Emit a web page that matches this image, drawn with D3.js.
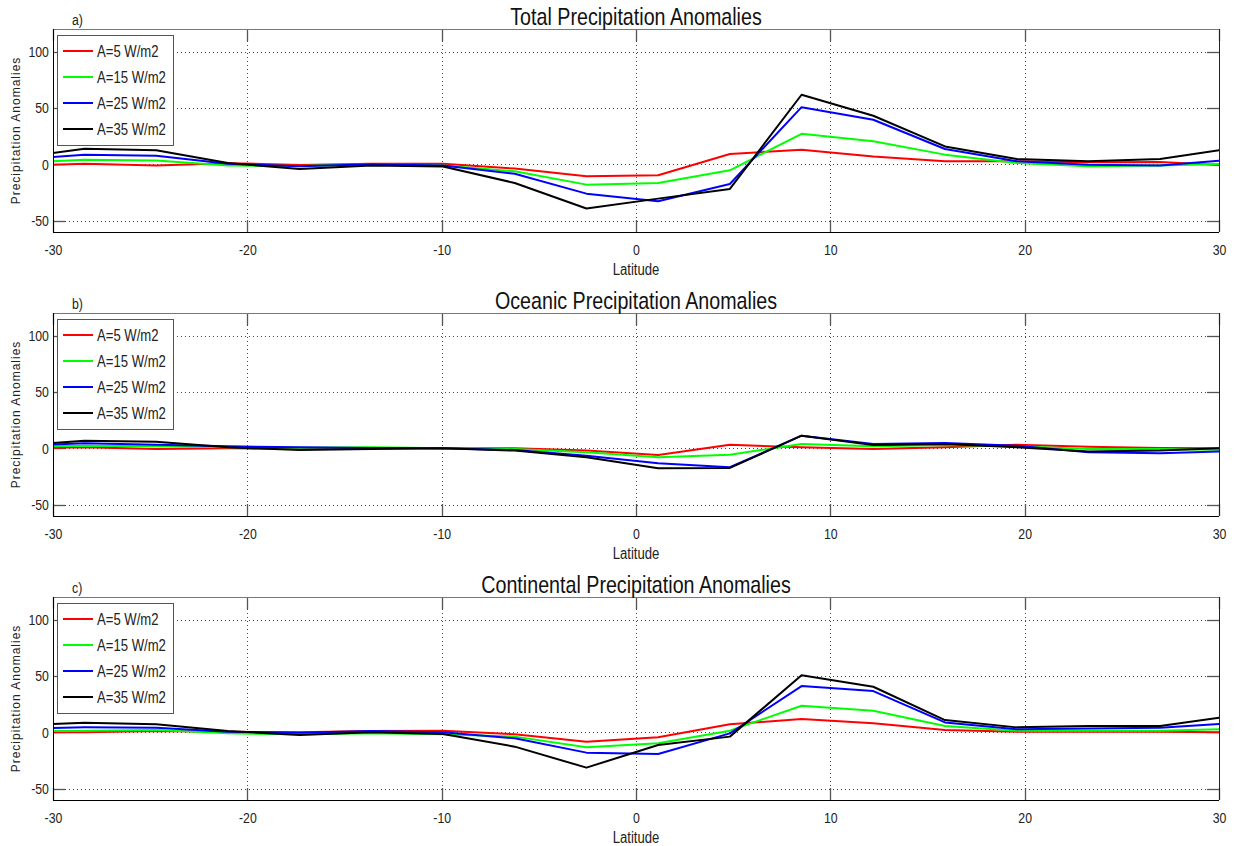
<!DOCTYPE html>
<html>
<head>
<meta charset="utf-8">
<script src="https://cdn.jsdelivr.net/npm/d3@7"></script>
<style>
  html, body { margin: 0; padding: 0; background: #fff; }
  svg { display: block; }
  text { font-family: "Liberation Sans", Arial, Helvetica, sans-serif; }
</style>
</head>
<body>
<svg id="chart" width="1238" height="846"></svg>
<script>
// Latitudes of the model grid rows (degrees)
const latitudes = [-32.07, -28.38, -24.69, -21.0, -17.31, -13.62, -9.93, -6.24, -2.55, 1.14, 4.83, 8.52, 12.21, 15.9, 19.59, 23.28, 26.97, 30.66];

// Legend entries / forcing amplitudes
const seriesNames = ["A=5 W/m2", "A=15 W/m2", "A=25 W/m2", "A=35 W/m2"];
const seriesColors = ["#ff0000", "#00ff00", "#0000ff", "#000000"];

// a) Total precipitation anomalies
const totalA5  = [-1.5, 0.5, -1, 1, -0.5, 0.5, 0.5, -3.8, -10.6, -9.7, 9.1, 13, 7, 2.7, 2.7, 1.8, 2, -1.2];
const totalA15 = [1, 4, 3.5, -1, -1.5, 0, -1, -6.2, -18, -16.5, -5.3, 27.1, 20.4, 8.6, 1.2, -1.8, -1, 0.5];
const totalA25 = [4, 8.5, 7.7, 0.6, -1.8, 0, -1, -8.3, -26, -32.7, -17.4, 50.7, 39.5, 13.6, 2.7, -0.3, -1, 4];
const totalA35 = [5, 13.9, 12.4, 1.2, -4.1, -1, -2, -16.5, -39.2, -30.4, -21.8, 61.7, 43.1, 15.9, 4.7, 2.7, 4.7, 14.1];

// b) Oceanic precipitation anomalies
const oceanA5  = [0, 0.9, -0.6, 0, -0.3, 0, 0, 0, -2, -5.9, 3.2, 0.9, -0.6, 0.9, 3.2, 1.5, 0.3, 0];
const oceanA15 = [1, 2.4, 1.8, 0.9, 0.6, 0.9, 0, -0.6, -3.5, -8, -5.6, 3.8, 1.8, 2.9, 1.8, -0.6, -0.6, -1.5];
const oceanA25 = [2, 4.4, 3.2, 1.8, 0.9, 0.3, 0, -1.5, -6.5, -13.3, -16.8, 11.2, 3.8, 4.7, 2.4, -3.5, -4.4, -2.5];
const oceanA35 = [2, 6.8, 5.9, 0.9, -1.5, -0.6, 0, -2, -8, -17.7, -17.4, 11.2, 2.9, 3.8, 0.9, -2.7, -2, 0.5];

// c) Continental precipitation anomalies
const landA5  = [0, 0, 1.2, 0.6, 0, 1.2, 1.5, -1.8, -8.3, -4.4, 7.1, 11.8, 8, 2.1, 0.6, 0.6, 0.6, 0];
const landA15 = [1, 1.5, 2.1, -0.9, -1.8, -0.9, -1.8, -3.8, -13.3, -9.7, 1.5, 23.6, 19.2, 5.6, 1.5, 1.5, 1.5, 3];
const landA25 = [3.3, 4.4, 4.1, 0.6, -0.3, 1.2, 0, -5.3, -18, -19.2, -0.9, 41, 36.6, 8.8, 2.7, 3.5, 4.1, 8];
const landA35 = [5.9, 8.6, 7.1, 1.2, -2.4, 0, -1.5, -12.7, -31.3, -11.2, -3.8, 50.7, 40.4, 10.9, 4.4, 5.6, 5.6, 14.5];

const xTicks = [-30, -20, -10, 0, 10, 20, 30];
const yTicks = [-50, 0, 50, 100];

const panels = [
  { tag: "a)", title: "Total Precipitation Anomalies",       top: 29,  series: [totalA5, totalA15, totalA25, totalA35] },
  { tag: "b)", title: "Oceanic Precipitation Anomalies",     top: 313, series: [oceanA5, oceanA15, oceanA25, oceanA35] },
  { tag: "c)", title: "Continental Precipitation Anomalies", top: 597, series: [landA5, landA15, landA25, landA35] }
];

const left = 53, right = 1219, panelH = 203;
const squeeze = 0.82;   // horizontal compression for the condensed-looking labels
const svg = d3.select("#chart");

// text drawn horizontally condensed around its anchor point
function narrowText(parent, x, y, str, size, anchor) {
  return parent.append("text")
    .attr("transform", `translate(${x},${y}) scale(${squeeze},1)`)
    .attr("text-anchor", anchor || "start")
    .attr("font-size", size).attr("fill", "#222").text(str);
}

const x = d3.scaleLinear().domain([-30, 30]).range([left, right]);

panels.forEach((p, pi) => {
  const y = d3.scaleLinear().domain([-60, 120]).range([p.top + panelH, p.top]);
  const g = svg.append("g");
  const clipId = "clip" + pi;
  svg.append("clipPath").attr("id", clipId)
    .append("rect").attr("x", left).attr("y", p.top).attr("width", right - left).attr("height", panelH);

  // dotted grid
  g.append("g").selectAll("line").data(xTicks.slice(1, -1)).join("line")
    .attr("x1", d => Math.round(x(d)) + 0.5).attr("x2", d => Math.round(x(d)) + 0.5)
    .attr("y1", p.top).attr("y2", p.top + panelH)
    .attr("stroke", "#444").attr("stroke-width", 1).attr("stroke-dasharray", "1,3");
  g.append("g").selectAll("line").data(yTicks).join("line")
    .attr("x1", left).attr("x2", right)
    .attr("y1", d => Math.round(y(d)) + 0.5).attr("y2", d => Math.round(y(d)) + 0.5)
    .attr("stroke", "#444").attr("stroke-width", 1).attr("stroke-dasharray", "1,3");

  // axis labels via d3 axes; inner tick marks drawn separately
  const xAxis = d3.axisBottom(x).tickValues(xTicks).tickSize(0).tickPadding(12).tickFormat(d => String(d));
  const gx = g.append("g").attr("transform", `translate(0,${p.top + panelH})`).call(xAxis);
  gx.select(".domain").remove();
  gx.selectAll("text").attr("font-size", 15).attr("fill", "#222")
    .attr("transform", `scale(${squeeze},1)`);

  const yAxis = d3.axisLeft(y).tickValues(yTicks).tickSize(0).tickPadding(5).tickFormat(d => String(d));
  const gy = g.append("g").attr("transform", `translate(${left},0)`).call(yAxis);
  gy.select(".domain").remove();
  gy.selectAll("text").attr("font-size", 15).attr("fill", "#222")
    .attr("transform", `scale(${squeeze},1)`);

  // inner tick marks on all four sides
  const tk = 12;
  const tickG = g.append("g").attr("stroke", "#555").attr("stroke-width", 1.3);
  xTicks.forEach(d => {
    const xx = Math.round(x(d)) + 0.5;
    tickG.append("line").attr("x1", xx).attr("x2", xx).attr("y1", p.top + panelH).attr("y2", p.top + panelH - tk);
    tickG.append("line").attr("x1", xx).attr("x2", xx).attr("y1", p.top).attr("y2", p.top + tk);
  });
  yTicks.forEach(d => {
    const yy = Math.round(y(d)) + 0.5;
    tickG.append("line").attr("x1", left).attr("x2", left + tk).attr("y1", yy).attr("y2", yy);
    tickG.append("line").attr("x1", right).attr("x2", right - tk).attr("y1", yy).attr("y2", yy);
  });

  // data lines
  const line = d3.line().x((d, i) => x(latitudes[i])).y(d => y(d));
  const lg = g.append("g").attr("clip-path", `url(#${clipId})`);
  p.series.forEach((vals, si) => {
    lg.append("path").datum(vals).attr("d", line)
      .attr("fill", "none").attr("stroke", seriesColors[si]).attr("stroke-width", 2)
      .attr("stroke-linejoin", "round");
  });

  // axes box
  g.append("line").attr("x1", left).attr("x2", right).attr("y1", p.top + 0.5).attr("y2", p.top + 0.5).attr("stroke", "#777");
  g.append("line").attr("x1", right + 0.5).attr("x2", right + 0.5).attr("y1", p.top).attr("y2", p.top + panelH).attr("stroke", "#222");
  g.append("line").attr("x1", left).attr("x2", right).attr("y1", p.top + panelH + 0.5).attr("y2", p.top + panelH + 0.5).attr("stroke", "#000");
  g.append("line").attr("x1", left + 0.5).attr("x2", left + 0.5).attr("y1", p.top).attr("y2", p.top + panelH).attr("stroke", "#000");

  // legend
  const lgX = 57, lgY = p.top + 6;
  const leg = g.append("g");
  leg.append("rect").attr("x", lgX + 0.5).attr("y", lgY + 0.5).attr("width", 116).attr("height", 110)
    .attr("fill", "#fff").attr("stroke", "#555").attr("stroke-width", 1);
  seriesNames.forEach((name, si) => {
    const yy = lgY + 16 + si * 26;
    leg.append("line").attr("x1", lgX + 6).attr("x2", lgX + 36).attr("y1", yy).attr("y2", yy)
      .attr("stroke", seriesColors[si]).attr("stroke-width", 2);
    narrowText(leg, lgX + 40, yy + 6, name, 16, "start");
  });

  // titles and labels
  narrowText(g, (left + right) / 2, p.top - 4, p.title, 24, "middle").attr("fill", "#111");
  narrowText(g, 72, p.top - 4, p.tag, 15, "start");
  narrowText(g, (left + right) / 2, p.top + panelH + 43, "Latitude", 16, "middle");
  g.append("text")
    .attr("transform", `translate(20,${p.top + panelH / 2}) rotate(-90)`)
    .attr("text-anchor", "middle")
    .attr("font-size", 12).attr("letter-spacing", 1).attr("fill", "#222").text("Precipitation Anomalies");
});
</script>
</body>
</html>
